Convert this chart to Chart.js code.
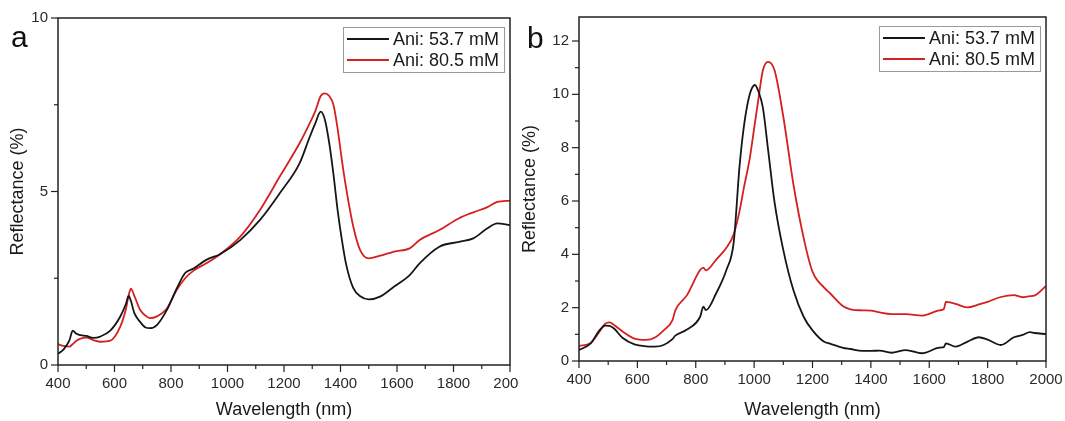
<!DOCTYPE html>
<html>
<head>
<meta charset="utf-8">
<script src="https://cdn.jsdelivr.net/npm/chart.js@4"></script>
<style>
    body { margin: 0; background: #fff; width: 1065px; height: 421px; overflow: hidden; position: relative; }
    .painel { position: absolute; top: 0; }
    .letra { position: absolute; font-family: "Liberation Sans", Arial, sans-serif; font-size: 30px; line-height: 30px; color: #111; }
</style>
</head>
<body>
<div class="painel" style="left:0"><canvas id="grafA" width="519" height="421"></canvas></div>
<div class="painel" style="left:519px"><canvas id="grafB" width="546" height="421"></canvas></div>
<div class="letra" style="left:11px; top:22px">a</div>
<div class="letra" style="left:527px; top:23px">b</div>
<script>
// Dados (comprimento de onda em nm, refletância em %)
const rotulos = ["Ani: 53.7 mM", "Ani: 80.5 mM"];

const comprimentosA = [400, 420, 440, 452, 465, 480, 500, 525, 550, 585, 620, 640, 650, 658, 670, 690, 710, 725, 750, 785,
    820, 850, 880, 925, 975, 1045, 1115, 1185, 1255, 1290, 1310, 1330, 1345, 1360, 1375, 1390, 1405, 1420, 1445, 1470,
    1500, 1540, 1590, 1645, 1680, 1750, 1820, 1870, 1920, 1955, 2000];
const aniBaixoA = [0.32, 0.45, 0.7, 0.99, 0.9, 0.86, 0.84, 0.78, 0.82, 0.99, 1.39, 1.75, 1.99, 1.85, 1.5, 1.25, 1.08, 1.06, 1.15, 1.58,
    2.2, 2.65, 2.78, 3.03, 3.2, 3.6, 4.18, 4.95, 5.81, 6.55, 6.95, 7.3, 7.06, 6.4, 5.5, 4.45, 3.6, 2.9, 2.22, 1.98,
    1.89, 1.97, 2.26, 2.59, 2.93, 3.41, 3.55, 3.65, 3.94, 4.08, 4.03];
const aniAltoA = [0.6, 0.55, 0.53, 0.6, 0.7, 0.76, 0.79, 0.72, 0.67, 0.7, 1.1, 1.6, 2.0, 2.2, 2.0, 1.6, 1.42, 1.35, 1.4, 1.62,
    2.16, 2.5, 2.72, 2.93, 3.2, 3.7, 4.47, 5.43, 6.39, 6.95, 7.3, 7.75, 7.83, 7.75, 7.5, 6.8, 5.9, 5.1, 4.0, 3.3,
    3.07, 3.15, 3.27, 3.36, 3.6, 3.89, 4.23, 4.4, 4.55, 4.7, 4.74];

const comprimentosB = [400, 440, 470, 490, 505, 520, 550, 590, 630, 660, 690, 720, 730, 770, 815, 826, 835, 870, 905, 930,
    950, 965, 985, 1003, 1015, 1030, 1048, 1070, 1100, 1135, 1170, 1200, 1240, 1260, 1305, 1330, 1370, 1400, 1430, 1470,
    1520, 1575, 1635, 1650, 1657, 1690, 1730, 1770, 1800, 1845, 1890, 1920, 1945, 1960, 2000];
const aniBaixoB = [0.41, 0.66, 1.15, 1.33, 1.32, 1.22, 0.86, 0.62, 0.55, 0.54, 0.6, 0.82, 0.95, 1.18, 1.66, 2.04, 1.91, 2.54, 3.41, 4.45,
    7.3, 8.8, 10.0, 10.35, 10.1, 9.5, 7.91, 5.95, 4.16, 2.64, 1.65, 1.15, 0.72, 0.65, 0.49, 0.45, 0.38, 0.38, 0.39, 0.31,
    0.41, 0.29, 0.5, 0.52, 0.66, 0.54, 0.72, 0.89, 0.8, 0.6, 0.89, 0.98, 1.08, 1.05, 1.01];
const aniAltoB = [0.56, 0.68, 1.1, 1.4, 1.45, 1.35, 1.1, 0.84, 0.79, 0.88, 1.15, 1.52, 1.9, 2.47, 3.41, 3.5, 3.4, 3.8, 4.25, 4.75,
    5.62, 6.5, 7.6, 8.95, 9.85, 10.9, 11.22, 10.9, 9.16, 6.6, 4.6, 3.35, 2.75, 2.54, 2.05, 1.94, 1.9, 1.89, 1.82, 1.76,
    1.76, 1.7, 1.9, 1.95, 2.22, 2.14, 2.01, 2.12, 2.22, 2.4, 2.47, 2.39, 2.43, 2.45, 2.81];

const corPreta = "#161616";
const corVermelha = "rgb(212, 32, 32)";
const fonte = '"Liberation Sans", Arial, sans-serif';

Chart.defaults.font.family = fonte;
Chart.defaults.color = "#2a2a2a";

// moldura, marcas dos eixos e legenda em caixa
const moldura = {
    id: "moldura",
    afterDraw(chart) {
        const { ctx, chartArea: a } = chart;
        ctx.save();
        ctx.strokeStyle = "#222";
        ctx.lineWidth = 1.5;
        ctx.strokeRect(a.left, a.top, a.right - a.left, a.bottom - a.top);

        // marcas (maiores com rótulo, menores sem)
        ctx.lineWidth = 1.2;
        ["x", "y"].forEach((id) => {
            const s = chart.scales[id];
            s.ticks.forEach((t) => {
                const tam = s.options.ticks.callback(t.value) !== "" ? 7 : 4;
                const p = s.getPixelForValue(t.value);
                ctx.beginPath();
                if (id === "x") {
                    ctx.moveTo(p, a.bottom);
                    ctx.lineTo(p, a.bottom + tam);
                } else {
                    ctx.moveTo(a.left - tam, p);
                    ctx.lineTo(a.left, p);
                }
                ctx.stroke();
            });
        });

        // legenda
        ctx.font = "18px " + fonte;
        const largTexto = Math.max(...chart.data.datasets.map((d) => ctx.measureText(d.label).width));
        const larg = 4 + 42 + 4 + largTexto + 5;
        const alt = 45;
        const x0 = a.right - 6 - larg;
        const y0 = a.top + 9;
        ctx.fillStyle = "#fff";
        ctx.fillRect(x0, y0, larg, alt);
        ctx.strokeStyle = "#9a9a9a";
        ctx.lineWidth = 1;
        ctx.strokeRect(x0 + 0.5, y0 + 0.5, larg, alt);
        chart.data.datasets.forEach((d, i) => {
            const yc = y0 + 12 + i * 21;
            ctx.strokeStyle = d.borderColor;
            ctx.lineWidth = 1.8;
            ctx.beginPath();
            ctx.moveTo(x0 + 4, yc);
            ctx.lineTo(x0 + 46, yc);
            ctx.stroke();
            ctx.fillStyle = "#1a1a1a";
            ctx.textBaseline = "middle";
            ctx.fillText(d.label, x0 + 50, yc + 1);
        });
        ctx.restore();
    },
};

function pontos(xs, ys) {
    return xs.map((x, i) => ({ x: x, y: ys[i] }));
}

function criarGrafico(id, xs, baixo, alto, eixoY, larguraY, alturaX, pad) {
    const ctx = document.getElementById(id).getContext("2d");
    return new Chart(ctx, {
        type: "line",
        data: {
            datasets: [
                { label: rotulos[0], data: pontos(xs, baixo), borderColor: corPreta },
                { label: rotulos[1], data: pontos(xs, alto), borderColor: corVermelha },
            ],
        },
        options: {
            responsive: false,
            animation: false,
            devicePixelRatio: 1,
            layout: { padding: pad },
            elements: {
                point: { radius: 0 },
                line: { borderWidth: 1.8, cubicInterpolationMode: "monotone" },
            },
            plugins: { legend: { display: false }, tooltip: { enabled: false } },
            scales: {
                x: {
                    type: "linear",
                    min: 400,
                    max: 2000,
                    grid: { display: false, drawTicks: true, tickLength: 7 },
                    border: { display: false },
                    ticks: {
                        stepSize: 100,
                        autoSkip: false,
                        maxRotation: 0,
                        padding: 3,
                        font: { size: 15 },
                        callback: (v) => (v % 200 === 0 ? String(v) : ""),
                    },
                    title: { display: true, text: "Wavelength (nm)", font: { size: 18 }, color: "#1a1a1a", padding: 0 },
                    afterFit: (s) => {
                        s.height = alturaX;
                        s.paddingLeft = 0;
                        s.paddingRight = 0;
                    },
                },
                y: Object.assign(
                    {
                        grid: { display: false, drawTicks: true, tickLength: 7 },
                        border: { display: false },
                        afterFit: (s) => {
                            s.width = larguraY;
                            s.paddingTop = 0;
                            s.paddingBottom = 0;
                        },
                    },
                    eixoY
                ),
            },
        },
        plugins: [moldura],
    });
}

document.addEventListener("DOMContentLoaded", () => {
    // Painel a
    criarGrafico("grafA", comprimentosA, aniBaixoA, aniAltoA, {
        min: 0,
        max: 10,
        ticks: { stepSize: 2.5, autoSkip: false, padding: 3, font: { size: 15 }, callback: (v) => (v % 5 === 0 ? String(v) : "") },
        title: { display: true, text: "Reflectance (%)", font: { size: 18 }, color: "#1a1a1a", padding: { top: 7, bottom: 0 } },
    }, 58, 56, { top: 18, right: 9, left: 0, bottom: 0 });

    // Painel b
    criarGrafico("grafB", comprimentosB, aniBaixoB, aniAltoB, {
        min: 0,
        max: 12.9,
        afterBuildTicks: (s) => {
            s.ticks = s.ticks.filter((t) => Number.isInteger(t.value));
        },
        ticks: { stepSize: 1, autoSkip: false, padding: 3, font: { size: 15 }, callback: (v) => (v % 2 === 0 ? String(v) : "") },
        title: { display: true, text: "Reflectance (%)", font: { size: 18 }, color: "#1a1a1a", padding: { top: 0, bottom: 0 } },
    }, 60, 60, { top: 17, right: 19, left: 0, bottom: 0 });
});
</script>
</body>
</html>
